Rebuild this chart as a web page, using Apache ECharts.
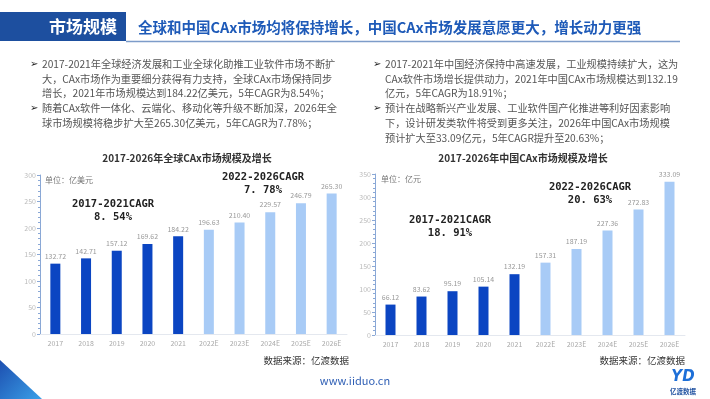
<!DOCTYPE html>
<html>
<head>
<meta charset="utf-8">
<script src="https://cdn.jsdelivr.net/npm/echarts@6/dist/echarts.min.js"></script>
<style>
  html, body { margin: 0; padding: 0; background: #fff; }
  #chart { width: 710px; height: 399px; }
</style>
</head>
<body>
<div id="chart"></div>
<script>
// categories and values
const years = ['2017', '2018', '2019', '2020', '2021', '2022E', '2023E', '2024E', '2025E', '2026E']
const globalValues = [132.72, 142.71, 157.12, 169.62, 184.22, 196.63, 210.40, 229.57, 246.79, 265.30]
const chinaValues = [66.12, 83.62, 95.19, 105.14, 132.19, 157.31, 187.19, 227.36, 272.83, 333.09]
const globalTicks = [0, 300, 50]   // min, max, interval
const chinaTicks = [0, 350, 50]

const headTag = '市场规模'
const headline = '全球和中国CAx市场均将保持增长，中国CAx市场发展意愿更大，增长动力更强'
const leftTitle = '2017-2026年全球CAx市场规模及增长'
const rightTitle = '2017-2026年中国CAx市场规模及增长'
const leftUnit = '单位：亿美元'
const rightUnit = '单位：亿元'
const leftCagr = ['2017-2021CAGR\n8. 54%', '2022-2026CAGR\n7. 78%']
const rightCagr = ['2017-2021CAGR\n18. 91%', '2022-2026CAGR\n20. 63%']
const source = '数据来源：亿渡数据'

const leftText = [
  ['2017-2021年全球经济发展和工业全球化助推工业软件市场不断扩',
   '大，CAx市场作为重要细分获得有力支持，全球CAx市场保持同步',
   '增长，2021年市场规模达到184.22亿美元，5年CAGR为8.54%；'],
  ['随着CAx软件一体化、云端化、移动化等升级不断加深，2026年全',
   '球市场规模将稳步扩大至265.30亿美元，5年CAGR为7.78%；']
]
const rightText = [
  ['2017-2021年中国经济保持中高速发展，工业规模持续扩大，这为',
   'CAx软件市场增长提供动力，2021年中国CAx市场规模达到132.19',
   '亿元，5年CAGR为18.91%；'],
  ['预计在战略新兴产业发展、工业软件国产化推进等利好因素影响',
   '下，设计研发类软件将受到更多关注，2026年中国CAx市场规模',
   '预计扩大至33.09亿元，5年CAGR提升至20.63%；']
]

const FONT = '"Noto Sans CJK SC", "Noto Sans", sans-serif'
const DARK = '#0b45c2'
const LIGHT = '#a8cbf6'

let chart = echarts.init(document.getElementById('chart'), null, { renderer: 'canvas' })

// bullet paragraphs -> text elements
function bullets(blocks, arrowX, textX) {
  let out = []
  let line = 0
  for (let block of blocks) {
    out.push({
      type: 'text', x: arrowX, y: 64 + line * 14.8,
      style: { text: '➢', font: '10px "DejaVu Sans"', fill: '#222', verticalAlign: 'middle' }
    })
    for (let t of block) {
      out.push({
        type: 'text', x: textX, y: 64 + line * 14.8,
        style: { text: t, font: '10.2px ' + FONT, fill: '#555', verticalAlign: 'middle' }
      })
      line++
    }
  }
  return out
}

function cagr(text, x, y) {
  return {
    type: 'text', x: x, y: y,
    style: {
      text: text, font: 'bold 10.5px "DejaVu Sans Mono"', fill: '#222',
      align: 'center', verticalAlign: 'top', lineHeight: 13
    }
  }
}

function yAxisFor(ticks, gridIndex) {
  return {
    type: 'value', gridIndex: gridIndex,
    min: ticks[0], max: ticks[1], interval: ticks[2],
    axisLine: { show: true, lineStyle: { color: '#8aa8d6', width: 1 } },
    axisTick: { show: true, length: 3, lineStyle: { color: '#8aa8d6' } },
    minorTick: { show: true, splitNumber: 5, length: 2, lineStyle: { color: '#8aa8d6' } },
    axisLabel: { fontSize: 7, color: '#bbb', margin: 4, fontFamily: FONT },
    splitLine: { show: false }
  }
}

function xAxisFor(gridIndex) {
  return {
    type: 'category', gridIndex: gridIndex, data: years,
    axisLine: { show: true, lineStyle: { color: '#e4e8ef' } },
    axisTick: { show: false },
    axisLabel: { fontSize: 7, color: '#aaa', margin: 6, fontFamily: FONT }
  }
}

function barSeries(values, idx) {
  return {
    type: 'bar', xAxisIndex: idx, yAxisIndex: idx,
    barWidth: 10,
    data: values,
    itemStyle: { color: p => p.dataIndex < 5 ? DARK : LIGHT },
    label: {
      show: true, position: 'top', distance: 4,
      fontSize: 7, color: '#999', fontFamily: FONT,
      formatter: p => p.value.toFixed(2)
    }
  }
}

let graphics = [
  // header
  { type: 'rect', shape: { x: 0, y: 12, width: 126, height: 29 }, style: { fill: '#1d4f9f' } },
  { type: 'text', x: 117, y: 27, style: { text: headTag, font: 'bold 17px ' + FONT, fill: '#fff', align: 'right', verticalAlign: 'middle' } },
  { type: 'text', x: 138, y: 27, style: { text: headline, font: 'bold 14.5px ' + FONT, fill: '#1e5ab8', verticalAlign: 'middle' } },
  { type: 'line', shape: { x1: 126, y1: 41.5, x2: 680, y2: 41.5 }, style: { stroke: '#7d9cc9', lineWidth: 1.5 } },

  // chart titles and units
  { type: 'text', x: 187, y: 158, style: { text: leftTitle, font: 'bold 10px ' + FONT, fill: '#333', align: 'center', verticalAlign: 'middle' } },
  { type: 'text', x: 523, y: 158, style: { text: rightTitle, font: 'bold 10px ' + FONT, fill: '#333', align: 'center', verticalAlign: 'middle' } },
  { type: 'text', x: 45, y: 180, style: { text: leftUnit, font: '8px ' + FONT, fill: '#777', verticalAlign: 'middle' } },
  { type: 'text', x: 381, y: 179, style: { text: rightUnit, font: '8px ' + FONT, fill: '#777', verticalAlign: 'middle' } },

  cagr(leftCagr[0], 113, 198),
  cagr(leftCagr[1], 263, 171),
  cagr(rightCagr[0], 450, 214),
  cagr(rightCagr[1], 590, 181),

  // sources
  { type: 'text', x: 349, y: 360, style: { text: source, font: '9.5px ' + FONT, fill: '#333', align: 'right', verticalAlign: 'middle' } },
  { type: 'text', x: 685, y: 360, style: { text: source, font: '9.5px ' + FONT, fill: '#333', align: 'right', verticalAlign: 'middle' } },

  // footer
  { type: 'text', x: 355, y: 381, style: { text: 'www.iiduo.cn', font: '11px ' + FONT, fill: '#2f5fb5', align: 'center', verticalAlign: 'middle' } },
  {
    type: 'polygon', shape: { points: [[0, 360], [42, 399], [0, 399]] },
    style: {
      fill: new echarts.graphic.LinearGradient(0, 0, 1, 1, [
        { offset: 0, color: '#1d4fb0' }, { offset: 1, color: '#3aa0e8' }
      ])
    }
  },
  { type: 'text', x: 683, y: 377, style: { text: 'YD', font: 'italic bold 15px "DejaVu Sans"', fill: '#1d6fd8', align: 'center', verticalAlign: 'middle' } },
  { type: 'text', x: 683, y: 392, style: { text: '亿渡数据', font: 'bold 6.5px ' + FONT, fill: '#1d4f9f', align: 'center', verticalAlign: 'middle' } }
]
graphics = graphics.concat(bullets(leftText, 30, 42), bullets(rightText, 373, 385))

let option = {
  animation: false,
  textStyle: { fontFamily: FONT },
  grid: [
    { left: 40, right: 363, top: 175, bottom: 65 },
    { left: 375, right: 25, top: 174, bottom: 64 }
  ],
  xAxis: [xAxisFor(0), xAxisFor(1)],
  yAxis: [yAxisFor(globalTicks, 0), yAxisFor(chinaTicks, 1)],
  series: [barSeries(globalValues, 0), barSeries(chinaValues, 1)],
  graphic: { elements: graphics }
}

chart.setOption(option)
</script>
</body>
</html>
